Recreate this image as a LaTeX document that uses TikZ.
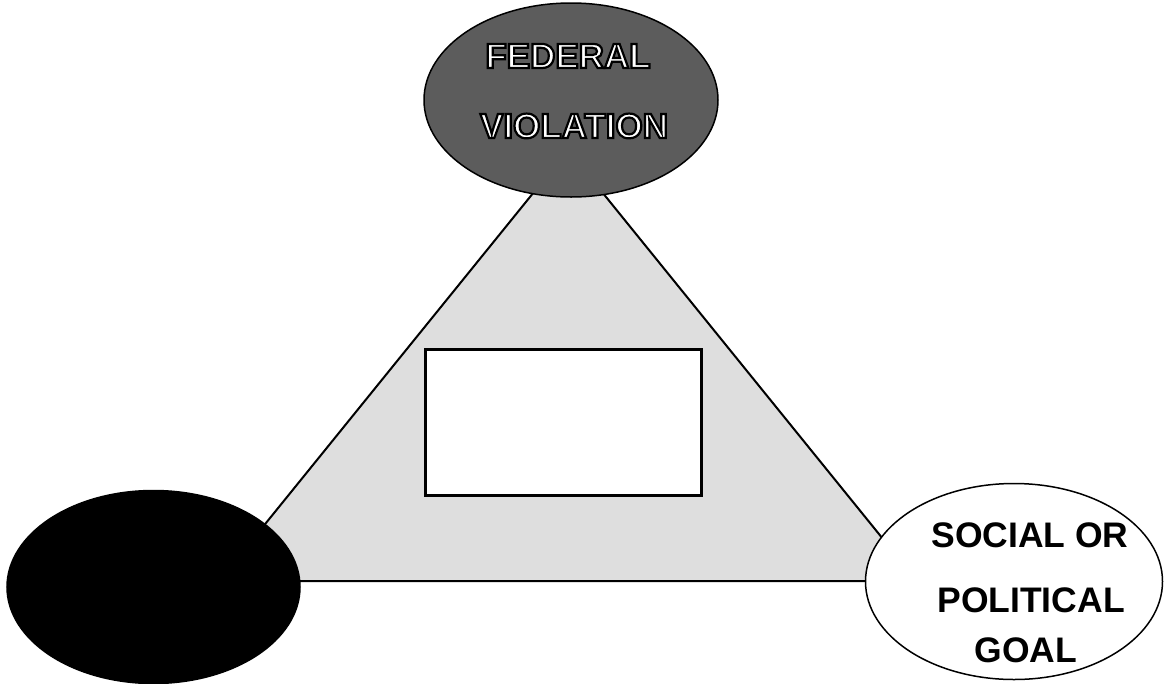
\documentclass[tikz,border=0pt]{standalone}
\usepackage{fontspec}
\setmainfont{Liberation Sans}
\usetikzlibrary{shapes.geometric}
\newcommand\outlinedword[1]{{\color{white}\special{pdf:literal direct 0 G 2 Tr 2.2 w}#1\special{pdf:literal direct 0 Tr 1 G}}}
\tikzset{
  ell/.style={ellipse, inner sep=0pt, line width=1.5pt},
  tri/.style={draw=black, line width=2pt, fill=black!13, line join=miter},
  lbl/.style={font=\bfseries\fontsize{35.5}{40}\selectfont, anchor=base, inner sep=0pt},
  toplbl/.style={font=\bfseries\fontsize{35}{40}\selectfont, anchor=base, inner sep=0pt},
  panel/.style={draw=black, fill=white, line width=3pt, inner sep=0pt, minimum width=276pt, minimum height=146pt}
}
\begin{document}
\begin{tikzpicture}[x=1pt, y=-1pt]
\useasboundingbox (0,0) rectangle (1165,683);
\coordinate (apex) at (568,150);
\coordinate (bl) at (219,581);
\coordinate (br) at (917,581);
\draw[tri] (apex) -- (bl) -- (br) -- cycle;
\node[panel] (box) at (563,422) {};
\node[ell, draw=black, fill=black!64, minimum width=294pt, minimum height=194pt] (fed) at (571,100) {};
\node[ell, draw=black, fill=black, minimum width=293pt, minimum height=193pt] (actor) at (153.5,587) {};
\node[ell, draw=black, fill=white, minimum width=297pt, minimum height=196pt] (goal) at (1014,581.5) {};
\node[toplbl] (fedA) at (568,68) {\outlinedword{FEDERAL}};
\node[toplbl] (fedB) at (574,138) {\outlinedword{VIOLATION}};
\node[lbl] (goalA) at (1030,547) {SOCIAL OR};
\node[lbl] (goalB) at (1031,612) {POLITICAL};
\node[lbl] (goalC) at (1026,662) {GOAL};
\end{tikzpicture}
\end{document}
